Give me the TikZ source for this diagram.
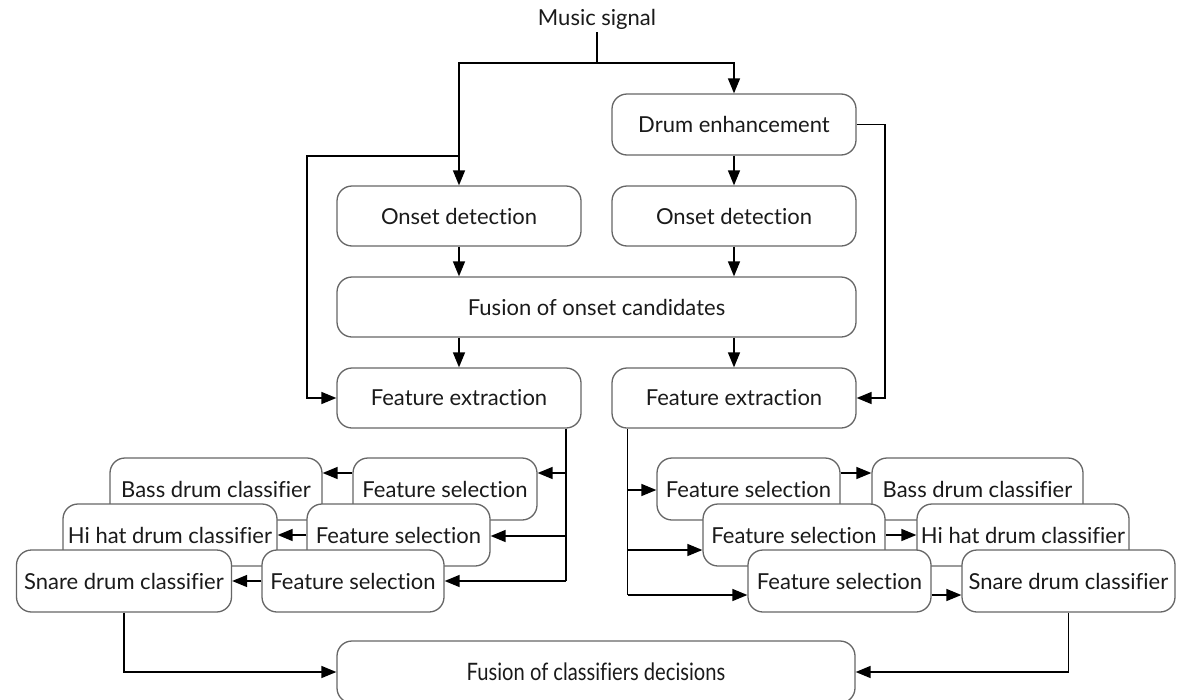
\documentclass[tikz,border=0pt]{standalone}
\usepackage{fontspec}
\usepackage{graphicx}
\setmainfont{Lato}[Ligatures=NoCommon]
\usetikzlibrary{arrows.meta}
\definecolor{boxgray}{HTML}{666666}
\definecolor{txt}{HTML}{1A1A1A}
\begin{document}
\begin{tikzpicture}[x=1pt,y=-1pt,
  box/.style={draw=boxgray, line width=1.3pt, rounded corners=15pt, fill=white,
    minimum height=61pt, inner sep=0pt, text=txt, font=\fontsize{22}{26}\selectfont},
  conn/.style={draw=black, line width=1.5pt},
  arr/.style={conn, -{Triangle[length=15pt,width=12pt]}},
  lbl/.style={inner sep=3pt, text=txt, font=\fontsize{22}{26}\selectfont}]
\clip (0,0) rectangle (1178,699);
\fill[white] (0,0) rectangle (1178,699);

% top part
\node[lbl] (music) at (597,19) {Music signal};
\node[box, minimum width=244pt] (drum) at (734,124.5) {Drum enhancement};
\node[box, minimum width=244pt, minimum height=60pt] (onsetL) at (459,216) {Onset detection};
\node[box, minimum width=244pt, minimum height=60pt] (onsetR) at (734,216) {Onset detection};
\node[box, minimum width=519pt, minimum height=60pt] (fusO) at (596.5,307) {Fusion of onset candidates};
\node[box, minimum width=244pt, minimum height=60pt] (feL) at (459,398) {Feature extraction};
\node[box, minimum width=244pt, minimum height=60pt] (feR) at (734,398) {Feature extraction};

% left stack
\node[box, minimum width=212pt, minimum height=62pt] (bassL) at (216,489) {Bass drum classifier};
\node[box, minimum width=184pt, minimum height=62pt] (fsL1) at (445,489) {Feature selection};
\node[box, minimum width=214pt, minimum height=62pt] (hihatL) at (170,535) {Hi hat drum classifier};
\node[box, minimum width=183pt, minimum height=62pt] (fsL2) at (398.5,535) {Feature selection};
\node[box, minimum width=215pt, minimum height=62pt] (snareL) at (124,581) {Snare drum classifier};
\node[box, minimum width=182pt, minimum height=62pt] (fsL3) at (353,581) {Feature selection};

% right stack
\node[box, minimum width=183pt, minimum height=62pt] (fsR1) at (748.5,489) {Feature selection};
\node[box, minimum width=211pt, minimum height=62pt] (bassR) at (977.5,489) {Bass drum classifier};
\node[box, minimum width=182pt, minimum height=62pt] (fsR2) at (794,535) {Feature selection};
\node[box, minimum width=212pt, minimum height=62pt] (hihatR) at (1023,535) {Hi hat drum classifier};
\node[box, minimum width=183pt, minimum height=62pt] (fsR3) at (839.5,581) {Feature selection};
\node[box, minimum width=213pt, minimum height=62pt] (snareR) at (1068.5,581) {Snare drum classifier};

% bottom
\node[box, minimum width=518pt, minimum height=62pt] (fusC) at (596,672) {\raisebox{-9pt}{\scalebox{0.84}[1]{\fontsize{24}{28}\selectfont Fusion of classifiers decisions}}};

% connectors: top
\coordinate (split) at (597,63);
\draw[conn] (music.south) -- (split);
\draw[arr] (split) -| (drum.north);
\draw[arr] (split) -| (onsetL.north);
\coordinate (bl) at (307,156);
\draw[arr] (bl -| onsetL.north) -- (bl) |- (feL.west);
\coordinate (br) at (885,0);
\draw[arr] (drum.east) -- (drum.east -| br) |- (feR.east);
\draw[arr] (drum.south) -- (onsetR.north);
\draw[arr] (onsetL.south) -- (onsetL.south |- fusO.north);
\draw[arr] (onsetR.south) -- (onsetR.south |- fusO.north);
\draw[arr] (fusO.south -| feL.north) -- (feL.north);
\draw[arr] (fusO.south -| feR.north) -- (feR.north);

% left bus
\coordinate (l1) at (566,473);
\coordinate (l2) at (566,536);
\coordinate (l3) at (566,581);
\draw[conn] (feL.south -| l3) -- (l3);
\draw[arr] (l1) -- (l1 -| fsL1.east);
\draw[arr] (l2) -- (l2 -| fsL2.east);
\draw[arr] (l3) -- (l3 -| fsL3.east);
\draw[arr] ([yshift=16pt]fsL1.west) -- ([yshift=16pt]bassL.east);
\draw[arr] (fsL2.west) -- (hihatL.east);
\draw[arr] (fsL3.west) -- (snareL.east);

% right bus
\coordinate (r1) at (627.5,490);
\coordinate (r2) at (627.5,550);
\coordinate (r3) at (627.5,595);
\draw[conn] (feR.south -| r3) -- (r3);
\draw[arr] (r1) -- (r1 -| fsR1.west);
\draw[arr] (r2) -- (r2 -| fsR2.west);
\draw[arr] (r3) -- (r3 -| fsR3.west);
\draw[arr] ([yshift=16pt]fsR1.east) -- ([yshift=16pt]bassR.west);
\draw[arr] (fsR2.east) -- (hihatR.west);
\draw[arr] ([yshift=-14pt]fsR3.east) -- ([yshift=-14pt]snareR.west);

% to final fusion
\draw[arr] (snareL.south) |- (fusC.west);
\draw[arr] (snareR.south) |- (fusC.east);
\end{tikzpicture}
\end{document}
